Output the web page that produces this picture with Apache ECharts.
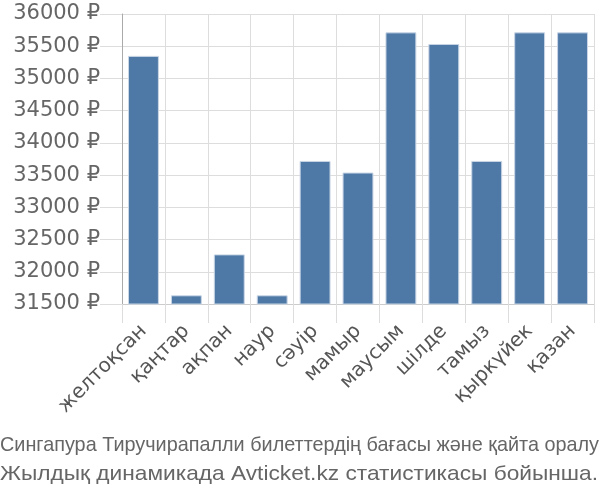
<!DOCTYPE html>
<html><head><meta charset="utf-8">
<script src="https://cdn.jsdelivr.net/npm/echarts@6/dist/echarts.min.js"></script>
<style>html,body{margin:0;padding:0;background:#fff}#c{width:600px;height:500px}</style>
</head><body><div id="c"></div>
<script>
const categories = ['желтоқсан','қаңтар','ақпан','наур','сәуір','мамыр','маусым','шілде','тамыз','қыркүйек','қазан'];
const prices = [35350, 31635, 32270, 31635, 33720, 33540, 35715, 35535, 33720, 35715, 35715];
const yMin = 31500, yMax = 36000, yStep = 500;
const captionLines = ['Сингапура Тиручирапалли билеттердің бағасы және қайта оралу', 'Жылдық динамикада Avticket.kz статистикасы бойынша.'];
const captionWidths = [599, 598];

const capFont = '21px "Liberation Sans"';
const cv = document.createElement('canvas').getContext('2d');
cv.font = capFont;

const chart = echarts.init(document.getElementById('c'), null, {renderer:'canvas'});
chart.setOption({
  animation:false,
  grid:{left:122, right:6, top:14, bottom:196, containLabel:false},
  xAxis:{type:'category', data:categories,
    axisLine:{lineStyle:{color:'#ccc', width:1}},
    axisTick:{show:true, length:19, lineStyle:{color:'#ddd'}},
    splitLine:{show:true, lineStyle:{color:'#ddd', width:1}},
    axisLabel:{rotate:45, fontSize:20, color:'#555', fontFamily:'DejaVu Sans', margin:24, interval:0}
  },
  yAxis:{type:'value', min:yMin, max:yMax, interval:yStep,
    axisLine:{show:true, lineStyle:{color:'#aaa', width:1}},
    axisTick:{show:true, length:22, lineStyle:{color:'#ddd'}},
    splitLine:{show:true, lineStyle:{color:'#ddd', width:1}},
    axisLabel:{formatter:v => v + ' ₽', fontSize:21, color:'#666', fontFamily:'DejaVu Sans', margin:22}
  },
  series:[{type:'bar', data:prices, barCategoryGap:'28%',
    itemStyle:{color:'#4e78a6', borderColor:'#c9d6e6', borderWidth:1}}],
  graphic: captionLines.map((t,i)=>{
    const w = cv.measureText(t).width;
    return {type:'text', x:0, y:435+i*29, scaleX: captionWidths[i]/w,
      style:{text:t, font:capFont, fill:'#666'}};
  })
});
</script></body></html>
